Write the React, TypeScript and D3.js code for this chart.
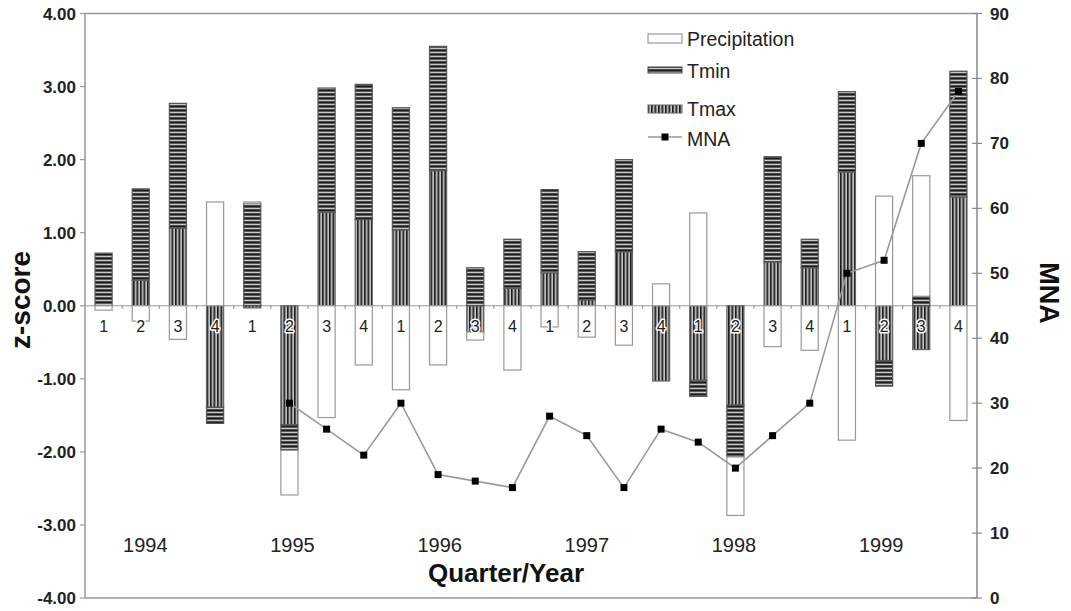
import React from "react";
import * as d3 from "d3";

const quarterLabels = ["1","2","3","4","1","2","3","4","1","2","3","4","1","2","3","4","1","2","3","4","1","2","3","4"];
const years = ["1994", "1995", "1996", "1997", "1998", "1999"];
const tmax = [0, 0.35, 1.06, -1.39, -0.03, -1.63, 1.28, 1.18, 1.04, 1.85, -0.36, 0.24, 0.45, 0.08, 0.74, -1.03, -1.02, -1.36, 0.6, 0.52, 1.83, -0.75, -0.6, 1.49];
const tmin = [0.72, 1.25, 1.71, -0.22, 1.4, -0.35, 1.7, 1.85, 1.67, 1.7, 0.52, 0.67, 1.14, 0.66, 1.26, 0, -0.22, -0.71, 1.44, 0.39, 1.1, -0.35, 0.13, 1.72];
const precip = [-0.06, -0.21, -0.46, 1.42, 0.02, -0.61, -1.53, -0.81, -1.15, -0.81, -0.11, -0.88, -0.29, -0.43, -0.54, 0.3, 1.27, -0.8, -0.56, -0.61, -1.84, 1.5, 1.65, -1.57];
const mna: (number | null)[] = [null, null, null, null, null, 30, 26, 22, 30, 19, 18, 17, 28, 25, 17, 26, 24, 20, 25, 30, 50, 52, 70, 78];
const zTicks = [-4, -3, -2, -1, 0, 1, 2, 3, 4];
const mnaTicks = [0, 10, 20, 30, 40, 50, 60, 70, 80, 90];

const W = 1071, H = 611;
const L = 85, R = 977, T = 13.5, B = 598;
const FONT = "'Liberation Sans', Arial, sans-serif";

export default function App() {
  const idx = quarterLabels.map((_, i) => i);
  const x = d3.scaleBand<number>().domain(idx).range([L, R]).paddingInner(0.54).paddingOuter(0.27);
  const y = d3.scaleLinear().domain([-4, 4]).range([B, T]);
  const y2 = d3.scaleLinear().domain([0, 90]).range([B, T]);
  const rows = idx.map((i) => ({ tmax: tmax[i], tmin: tmin[i], precip: precip[i] }));
  const keys = ["tmax", "tmin", "precip"];
  const series = d3.stack<any>().keys(keys).offset(d3.stackOffsetDiverging)(rows);
  const fills: Record<string, string> = { tmax: "url(#vstripe)", tmin: "url(#hstripe)", precip: "#fff" };
  const strokes: Record<string, string> = { tmax: "#666", tmin: "#555", precip: "#999" };
  const bw = x.bandwidth();
  const cx = (i: number) => (x(i) as number) + bw / 2;
  const line = d3.line<number | null>()
    .defined((d) => d !== null)
    .x((_, i) => cx(i))
    .y((d) => y2(d as number));
  const y0 = y(0);
  // year labels sit near the second quarter of each year
  const yearX = (k: number) => (cx(4 * k + 1) + cx(4 * k + 2)) / 2 - 14 - k * 1.5;

  return (
    <svg width={W} height={H} style={{ position: "absolute", left: 0, top: 0, background: "#fff" }} fontFamily={FONT}>
      <defs>
        <pattern id="hstripe" width="4" height="4" patternUnits="userSpaceOnUse">
          <rect width="4" height="4" fill="#6a6a6a" />
          <rect y="0" width="4" height="1" fill="#c8c8c8" />
          <rect y="1.6" width="4" height="1.6" fill="#1c1c1c" />
        </pattern>
        <pattern id="vstripe" width="3.5" height="4" patternUnits="userSpaceOnUse">
          <rect width="3.5" height="4" fill="#9a9a9a" />
          <rect x="0" width="1.5" height="4" fill="#1a1a1a" />
          <rect x="2.5" width="0.6" height="4" fill="#e8e8e8" />
        </pattern>
      </defs>

      {/* frame */}
      <line x1={L} x2={R} y1={T} y2={T} stroke="#999" strokeWidth={1.5} />
      <line x1={L} x2={R} y1={B} y2={B} stroke="#999" strokeWidth={1.5} />
      <line x1={L} x2={L} y1={T} y2={B} stroke="#999" strokeWidth={1.5} />
      <line x1={R} x2={R} y1={T} y2={B} stroke="#888" strokeWidth={1.5} />

      {/* left ticks */}
      {zTicks.map((t) => (
        <g key={"z" + t}>
          <line x1={L - 5} x2={L} y1={y(t)} y2={y(t)} stroke="#999" strokeWidth={1.2} />
          <text x={L - 9} y={y(t) + 6} textAnchor="end" fontSize={17} fontWeight="bold" fill="#222">
            {t.toFixed(2)}
          </text>
        </g>
      ))}
      {/* right ticks */}
      {mnaTicks.map((t) => (
        <g key={"m" + t}>
          <line x1={R - 5} x2={R + 5} y1={y2(t)} y2={y2(t)} stroke="#888" strokeWidth={1.2} />
          <text x={R + 13} y={y2(t) + 6} textAnchor="start" fontSize={17} fontWeight="bold" fill="#222">
            {t}
          </text>
        </g>
      ))}

      {/* zero line */}
      <line x1={L} x2={R} y1={y0} y2={y0} stroke="#999" strokeWidth={1.2} />
      {idx.slice(1).map((i) => (
        <line key={"zt" + i} x1={x(i)! - (x.step() - bw) / 2} x2={x(i)! - (x.step() - bw) / 2} y1={y0} y2={y0 + 3} stroke="#999" strokeWidth={1.2} />
      ))}

      {/* bars */}
      {series.map((s) => (
        <g key={s.key}>
          {s.map((d, i) => {
            const top = y(Math.max(d[0], d[1]));
            const bot = y(Math.min(d[0], d[1]));
            if (bot - top < 0.3) return null;
            return (
              <rect key={i} x={x(i)} y={top} width={bw} height={bot - top}
                fill={fills[s.key]} stroke={strokes[s.key]} strokeWidth={1.2} />
            );
          })}
        </g>
      ))}

      {/* quarter labels */}
      {quarterLabels.map((q, i) => (
        <text key={"q" + i} x={cx(i)} y={y0 + 26} textAnchor="middle" fontSize={16} fill="#222"
          stroke="#fff" strokeWidth={3} paintOrder="stroke" strokeLinejoin="round">
          {q}
        </text>
      ))}

      {/* MNA line */}
      <path d={line(mna) || ""} fill="none" stroke="#999" strokeWidth={1.6} />
      {mna.map((v, i) => v === null ? null : (
        <rect key={"p" + i} x={cx(i) - 3.5} y={y2(v) - 3.5} width={7} height={7} fill="#000" />
      ))}

      {/* year labels */}
      {years.map((yr, k) => (
        <text key={yr} x={yearX(k)} y={552} textAnchor="middle" fontSize={20} fill="#222">
          {yr}
        </text>
      ))}

      {/* axis titles */}
      <text x={506} y={582} textAnchor="middle" fontSize={26} fontWeight="bold" fill="#111">Quarter/Year</text>
      <text transform={`translate(30,${300}) rotate(-90)`} textAnchor="middle" fontSize={28} fontWeight="bold" fill="#111">z-score</text>
      <text transform={`translate(1040,${293}) rotate(90)`} textAnchor="middle" fontSize={27} fontWeight="bold" fill="#111">MNA</text>

      {/* legend */}
      <g fontSize={19.5} fill="#222">
        <rect x={648} y={34} width={34} height={9} fill="#fff" stroke="#999" strokeWidth={1.2} />
        <text x={687} y={46}>Precipitation</text>
        <rect x={648} y={67} width={34} height={6} fill="url(#hstripe)" stroke="#444" strokeWidth={1} />
        <text x={687} y={78}>Tmin</text>
        <rect x={648} y={105} width={34} height={8} fill="url(#vstripe)" stroke="#666" strokeWidth={1} />
        <text x={687} y={116}>Tmax</text>
        <line x1={648} x2={682} y1={137} y2={137} stroke="#999" strokeWidth={1.6} />
        <rect x={661.5} y={133.5} width={7} height={7} fill="#000" />
        <text x={687} y={146}>MNA</text>
      </g>
    </svg>
  );
}
